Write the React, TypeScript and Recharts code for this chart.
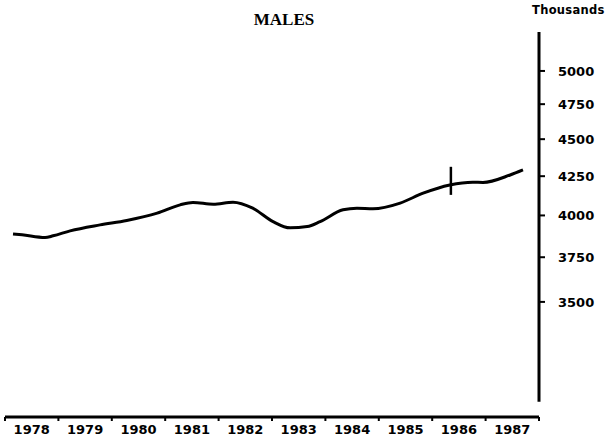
import React from 'react';
import { LineChart, Line, XAxis, YAxis, ReferenceLine } from 'recharts';

// time position (years) and males count (thousands)
const TIMES = [
  1978.15, 1978.32, 1978.75, 1978.9, 1979.22, 1979.78, 1980.28, 1980.85, 1981.28, 1981.52,
  1981.9, 1982.27, 1982.64, 1983.02, 1983.34, 1983.66, 1983.9, 1984.33, 1984.59, 1984.89,
  1985.4, 1985.83, 1986.33, 1986.76, 1986.95, 1987.46, 1987.7,
];
const MALES = [
  3887, 3882, 3866, 3876, 3906, 3942, 3969, 4014, 4066, 4081,
  4070, 4083, 4045, 3962, 3924, 3932, 3962, 4035, 4045, 4041,
  4077, 4140, 4193, 4211, 4209, 4258, 4291,
];
const YEAR_TICKS = [1978, 1979, 1980, 1981, 1982, 1983, 1984, 1985, 1986, 1987, 1988];
const VALUE_TICKS = [3500, 3750, 4000, 4250, 4500, 4750, 5000];
const BREAK_AT = 1986.35;
const BREAK_RANGE = [4129, 4312];

const data = TIMES.map((t, i) => ({ t, males: MALES[i] }));

const FONT = '"DejaVu Sans", sans-serif';

const YearTick = (props: any) => {
  const { x, y, payload } = props;
  if (payload.value >= 1988) return null;
  return (
    <text x={x + 26.7} y={y + 11} textAnchor="middle" fontFamily={FONT} fontWeight="bold" fontSize={13} fill="#000">
      {payload.value}
    </text>
  );
};

export default function App() {
  return (
    <div style={{ position: 'absolute', left: 0, top: 0, width: 606, height: 441, background: '#fff' }}>
      <div style={{ position: 'absolute', left: 0, width: 568, top: 10, textAlign: 'center', fontFamily: '"Liberation Serif", serif', fontWeight: 'bold', fontSize: 17 }}>
        MALES
      </div>
      <div style={{ position: 'absolute', left: 532, top: 3, fontFamily: FONT, fontWeight: 'bold', fontSize: 11.5, letterSpacing: 0.3 }}>
        Thousands
      </div>
      <LineChart width={606} height={441} data={data} margin={{ top: 32, right: 0, bottom: 0, left: 5 }}>
        <XAxis
          dataKey="t"
          type="number"
          domain={[1978, 1988]}
          ticks={YEAR_TICKS}
          height={24}
          axisLine={{ stroke: '#000', strokeWidth: 3 }}
          tickLine={{ stroke: '#000', strokeWidth: 2 }}
          tickSize={4}
          tick={<YearTick />}
          interval={0}
        />
        <YAxis
          orientation="right"
          type="number"
          scale="log"
          domain={[2930, 5310]}
          allowDataOverflow
          ticks={VALUE_TICKS}
          width={67}
          axisLine={false}
          tickLine={{ stroke: '#000', strokeWidth: 2 }}
          tickSize={6}
          tickMargin={13}
          tick={{ fontFamily: FONT, fontWeight: 'bold', fontSize: 13, fill: '#000', textAnchor: 'start' }}
          interval={0}
        />
        <ReferenceLine
          segment={[{ x: 1988, y: 3000 }, { x: 1988, y: 5310 }]}
          stroke="#000"
          strokeWidth={3}
          ifOverflow="visible"
        />
        <Line
          type="monotone"
          dataKey="males"
          stroke="#000"
          strokeWidth={3}
          dot={false}
          isAnimationActive={false}
        />
        <ReferenceLine
          segment={[{ x: BREAK_AT, y: BREAK_RANGE[0] }, { x: BREAK_AT, y: BREAK_RANGE[1] }]}
          stroke="#000"
          strokeWidth={2.5}
          ifOverflow="visible"
        />
      </LineChart>
    </div>
  );
}
